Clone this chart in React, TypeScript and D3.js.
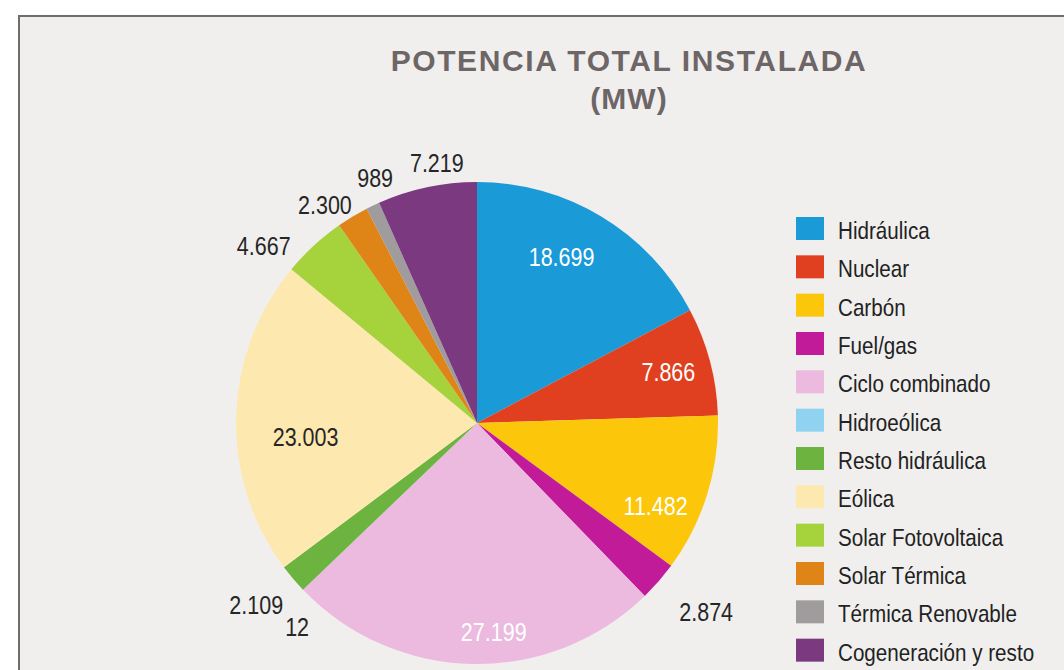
import React from 'react';
import * as d3 from 'd3';

// data (MW)
const categories = [
  'Hidráulica', 'Nuclear', 'Carbón', 'Fuel/gas', 'Ciclo combinado', 'Hidroeólica',
  'Resto hidráulica', 'Eólica', 'Solar Fotovoltaica', 'Solar Térmica',
  'Térmica Renovable', 'Cogeneración y resto',
];
const values = [18699, 7866, 11482, 2874, 27199, 12, 2109, 23003, 4667, 2300, 989, 7219];
const valueLabels = [
  '18.699', '7.866', '11.482', '2.874', '27.199', '12',
  '2.109', '23.003', '4.667', '2.300', '989', '7.219',
];
const colors = [
  '#1b9ad8', '#e0401f', '#fcc70a', '#c21b9a', '#ebbade', '#8fd3f1',
  '#6db33f', '#fde9b0', '#a6d33c', '#df8517', '#a09b9c', '#7b3a7f',
];

// label placement: radius (px) and angular nudge (deg) from slice middle
const labelRadius = [186, 198, 197, 297, 210, 272, 286, 172, 277, 266, 265, 263];
const labelShift = [-4, 0, 7.7, -1.6, -5.6, -4.8, 0.8, -6, -7.7, -3.8, 3, 3.2];
const whiteLabel = [true, true, true, false, true, false, false, false, false, false, false, false];

const W = 1064;
const H = 670;
const cx = 477;
const cy = 423;
const R = 241;

const sans = "'Liberation Sans', Arial, sans-serif";
const squeeze = 0.86; // fake the condensed face of the original

export default function App() {
  const pie = d3.pie<number>().sort(null).value(d => d);
  const arcs = pie(values);
  const arc = d3.arc<d3.PieArcDatum<number>>().innerRadius(0).outerRadius(R);

  const legendY = d3.scaleBand<string>()
    .domain(categories)
    .range([211, 671])
    .paddingInner(0);

  return (
    <svg width={W} height={H} style={{ position: 'absolute', left: 0, top: 0 }}>
      <rect x={0} y={0} width={W} height={H} fill="#ffffff" />
      <rect x={19} y={16} width={W} height={H} fill="#f0efee" stroke="#6e6c6c" strokeWidth={2} />

      <text x={629} y={71} textAnchor="middle" fontFamily={sans}
        fontWeight="bold" fontSize={30} letterSpacing={1.6} fill="#6d6566">
        POTENCIA TOTAL INSTALADA
      </text>
      <text x={629} y={109} textAnchor="middle" fontFamily={sans}
        fontWeight="bold" fontSize={30} letterSpacing={1} fill="#6d6566">
        (MW)
      </text>

      <g transform={`translate(${cx},${cy})`}>
        {arcs.map((a, i) => (
          <path key={categories[i]} d={arc(a) || ''} fill={colors[i]} />
        ))}
        {arcs.map((a, i) => {
          const mid = (a.startAngle + a.endAngle) / 2 + (labelShift[i] * Math.PI) / 180;
          const r = labelRadius[i];
          const x = Math.sin(mid) * r;
          const y = -Math.cos(mid) * r;
          return (
            <text key={'l' + i} transform={`translate(${x},${y}) scale(${squeeze},1)`} dy="0.36em"
              textAnchor="middle" fontFamily={sans} fontSize={25}
              fill={whiteLabel[i] ? '#ffffff' : '#262626'}>
              {valueLabels[i]}
            </text>
          );
        })}
      </g>

      <g>
        {categories.map((c, i) => (
          <g key={c} transform={`translate(796,${legendY(c)})`}>
            <rect x={0} y={6} width={28} height={23} fill={colors[i]} />
            <text transform={`translate(42,28) scale(${squeeze},1)`} fontFamily={sans}
              fontSize={24} fill="#222222">{c}</text>
          </g>
        ))}
      </g>
    </svg>
  );
}
